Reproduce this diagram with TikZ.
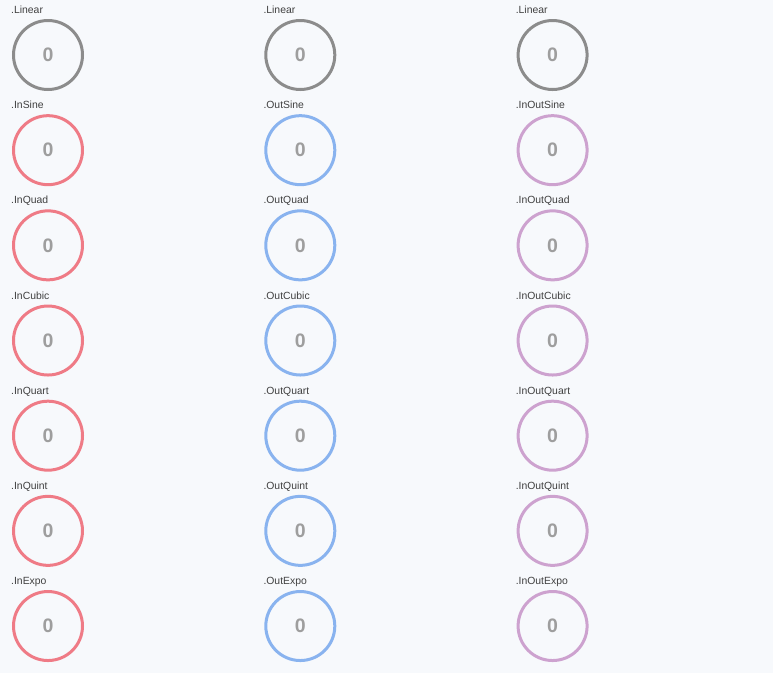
\documentclass[tikz,border=0pt]{standalone}
\usepackage{fontspec}
\setmainfont{Liberation Sans}
\usetikzlibrary{calc}
\definecolor{bgcol}{HTML}{F7F9FC}
\definecolor{ringgray}{HTML}{8C8C8C}
\definecolor{ringred}{HTML}{EF7B86}
\definecolor{ringblue}{HTML}{89B3EF}
\definecolor{ringpurple}{HTML}{CDA2CF}
\definecolor{zerocol}{HTML}{9E9E9E}
\definecolor{tagcol}{HTML}{404040}
\tikzset{
  ring/.style={circle, draw=#1, line width=3pt, minimum size=69pt, inner sep=0pt,
    text=zerocol, font=\bfseries\fontsize{19.5}{20}\selectfont},
  tag/.style={anchor=base west, inner sep=0pt, text=tagcol,
    font=\fontsize{10.4}{12}\selectfont},
}

\begin{document}
\begin{tikzpicture}[x=1pt,y=-1pt]
			%%%%% START %%%%%
			
			\fill[bgcol] (0,0) rectangle (773,673);
			\useasboundingbox (0,0) rectangle (773,673);
			
			% first row: linear in every column
			\foreach \c in {0,1,2} {
				\node[ring=ringgray] (lin\c) at ({48+252.3*\c},55) {0};
				\node[tag] (lintag\c) at ($(lin\c.center)+(-37,-41.5)$) {.Linear};
			}
			
			% easing rows
			\foreach \pre/\clr [count=\c from 0] in {In/ringred,Out/ringblue,InOut/ringpurple}
				\foreach \ease [count=\r] in {Sine,Quad,Cubic,Quart,Quint,Expo} {
					\node[ring=\clr] (\pre\ease) at ({48+252.3*\c},{55+95.17*\r}) {0};
					\node[tag] (\pre\ease tag) at ($(\pre\ease.center)+(-37,-41.5)$) {.\pre\ease};
				}
			
			%%%%% END %%%%%
		\end{tikzpicture}
\end{document}
